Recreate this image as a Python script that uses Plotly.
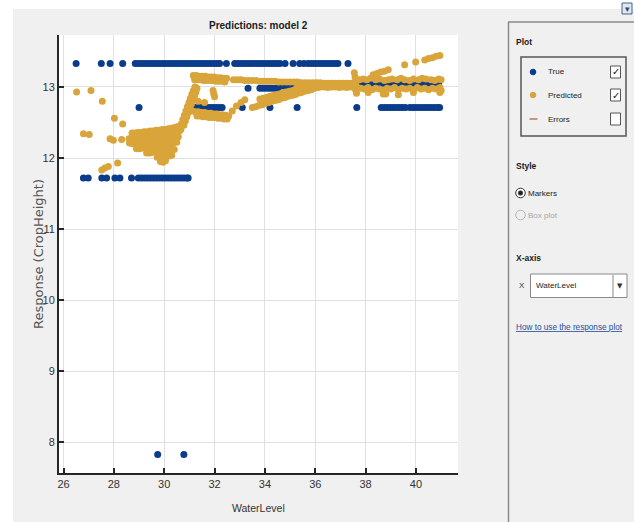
import plotly.graph_objects as go

# ---------------- data ----------------
x_ticks = [26, 28, 30, 32, 34, 36, 38, 40]
y_ticks = [8, 9, 10, 11, 12, 13]

# True response: one x-list per observed response level
true_levels = [13.33, 12.71, 12.98, 13.05, 11.72, 7.83]
true_r1_x = [26.5, 27.5, 27.85, 28.35, 28.85, 28.97, 29.09, 29.21, 29.33, 29.45, 29.57, 29.69,
             29.81, 29.93, 30.05, 30.17, 30.29, 30.41, 30.53, 30.65, 30.77, 30.89, 31.01, 31.13,
             31.25, 31.37, 31.49, 31.61, 31.73, 31.85, 31.97, 32.09, 32.2, 32.47, 32.8, 32.92,
             33.04, 33.16, 33.28, 33.4, 33.52, 33.64, 33.76, 33.88, 34.0, 34.12, 34.24, 34.36,
             34.48, 34.6, 34.8, 35.12, 35.38, 35.55, 35.71, 35.83, 35.95, 36.07, 36.19, 36.31,
             36.43, 36.55, 36.67, 36.79, 36.9, 37.3]
true_r2_x = [29.0, 31.1, 31.22, 31.34, 31.46, 31.58, 31.7, 31.82, 31.94, 32.06, 32.18, 32.3,
             33.1, 34.2, 35.28, 37.65, 38.62, 38.74, 38.86, 38.98, 39.1, 39.22, 39.34, 39.46,
             39.58, 39.76, 39.88, 40.0, 40.12, 40.24, 40.36, 40.48, 40.6, 40.72, 40.84, 40.94]
true_r3_x = [33.33, 33.8, 33.92, 34.04, 34.16, 34.28, 34.4, 34.52, 34.64, 34.76, 34.88, 35.0,
             35.12, 35.24, 35.36, 35.5]
true_r4_x = [37.78, 37.9, 38.02, 38.14, 38.26, 38.38, 38.5, 38.62, 38.74, 38.86, 38.98, 39.1,
             39.22, 39.34, 39.46, 39.58, 39.7, 39.82, 39.94, 40.06, 40.18, 40.3, 40.42, 40.54,
             40.66, 40.78, 40.9]
true_r5_x = [26.79, 26.98, 27.52, 27.71, 28.04, 28.24, 28.7, 28.97, 29.09, 29.21, 29.33, 29.45,
             29.57, 29.69, 29.81, 29.93, 30.05, 30.17, 30.29, 30.41, 30.53, 30.65, 30.77, 30.89,
             30.95]
true_r6_x = [29.74, 30.78]

# Predicted response: groups of (x, y) points
pred_left = [(26.52, 12.93), (27.09, 12.95), (27.54, 12.80), (28.02, 12.56), (28.35, 12.48),
             (26.79, 12.34), (27.02, 12.33), (27.85, 12.27), (27.98, 12.25), (28.31, 12.26),
             (27.52, 11.83), (27.64, 11.86), (27.78, 11.88), (28.15, 11.93)]
pred_blob = [(28.72, 12.35), (28.84, 12.35), (28.96, 12.36), (29.08, 12.36), (29.2, 12.37),
             (29.32, 12.37), (29.44, 12.38), (29.56, 12.38), (29.68, 12.39), (29.8, 12.39),
             (29.92, 12.40), (30.04, 12.40), (30.16, 12.41), (30.28, 12.42), (30.4, 12.43),
             (30.52, 12.44), (30.62, 12.45),
             (28.6, 12.27), (28.68, 12.27), (28.8, 12.28), (28.92, 12.28), (29.04, 12.29),
             (29.16, 12.29), (29.28, 12.30), (29.4, 12.30), (29.52, 12.31), (29.64, 12.31),
             (29.76, 12.32), (29.88, 12.32), (30.0, 12.33), (30.12, 12.34), (30.24, 12.35),
             (30.36, 12.36), (30.48, 12.37), (30.6, 12.38), (30.66, 12.40),
             (28.62, 12.21), (28.74, 12.20), (28.86, 12.20), (28.98, 12.21), (29.1, 12.21),
             (29.22, 12.22), (29.34, 12.22), (29.46, 12.23), (29.58, 12.23), (29.7, 12.24),
             (29.82, 12.24), (29.94, 12.25), (30.06, 12.25), (30.18, 12.26), (30.3, 12.27),
             (30.42, 12.28), (30.56, 12.30),
             (28.9, 12.13), (29.02, 12.13), (29.14, 12.14), (29.26, 12.14), (29.38, 12.15),
             (29.5, 12.15), (29.62, 12.16), (29.74, 12.16), (29.86, 12.17), (29.98, 12.17),
             (30.1, 12.18), (30.22, 12.19), (30.34, 12.20), (30.5, 12.22),
             (29.3, 12.07), (29.42, 12.07), (29.54, 12.08), (29.66, 12.08), (29.78, 12.09),
             (29.9, 12.09), (30.02, 12.10), (30.14, 12.10), (30.26, 12.11), (30.4, 12.12),
             (29.72, 12.01), (29.84, 12.01), (29.96, 12.02), (30.08, 12.02), (30.2, 12.03),
             (30.3, 12.04), (29.85, 11.95), (29.95, 11.94), (30.05, 11.96)]
pred_rise = [(30.68, 12.48), (30.74, 12.54), (30.8, 12.60), (30.86, 12.66), (30.92, 12.72),
             (30.98, 12.78), (31.04, 12.84), (31.1, 12.90), (31.16, 12.95), (31.22, 13.00),
             (30.78, 12.46), (30.84, 12.52), (30.9, 12.58), (30.96, 12.64), (31.02, 12.70),
             (31.08, 12.76), (31.14, 12.82), (31.2, 12.88), (31.26, 12.93), (31.3, 12.98)]
pred_low = [(31.0, 12.66), (31.12, 12.66), (31.24, 12.65), (31.36, 12.65), (31.48, 12.64),
            (31.6, 12.64), (31.72, 12.63), (31.84, 12.63), (31.96, 12.62), (32.08, 12.62),
            (32.2, 12.61), (32.32, 12.61), (32.44, 12.60), (32.56, 12.59),
            (31.3, 12.59), (31.42, 12.59), (31.54, 12.58), (31.66, 12.58), (31.78, 12.57),
            (31.9, 12.57), (32.02, 12.57), (32.14, 12.56), (32.26, 12.56), (32.38, 12.55),
            (32.5, 12.55),
            (31.2, 12.88), (31.35, 12.80), (31.6, 12.78), (31.94, 12.95), (31.97, 12.90),
            (32.0, 12.86), (32.7, 12.66), (32.87, 12.73), (33.05, 12.78), (33.2, 12.82)]
pred_up1 = [(31.15, 13.16), (31.27, 13.16), (31.39, 13.15), (31.51, 13.15), (31.63, 13.15),
            (31.75, 13.14), (31.87, 13.14), (31.99, 13.14), (32.11, 13.13), (32.23, 13.13),
            (32.35, 13.12), (32.48, 13.12),
            (31.21, 13.10), (31.33, 13.10), (31.45, 13.10), (31.57, 13.09), (31.69, 13.09),
            (31.81, 13.09), (31.93, 13.09), (32.05, 13.08), (32.17, 13.08), (32.29, 13.08),
            (32.41, 13.07)]
pred_up2 = [(32.75, 13.10), (32.9, 13.10), (33.05, 13.10), (33.2, 13.09), (33.35, 13.09),
            (33.5, 13.09), (33.65, 13.09), (33.8, 13.08), (33.95, 13.08), (34.1, 13.08),
            (34.25, 13.08), (34.4, 13.08), (34.55, 13.07), (34.7, 13.07), (34.85, 13.07),
            (35.0, 13.07), (35.15, 13.07), (35.3, 13.07), (35.45, 13.06), (35.6, 13.06),
            (35.75, 13.06), (35.9, 13.06), (36.05, 13.06), (36.2, 13.06), (36.35, 13.05),
            (36.5, 13.05), (36.65, 13.05), (36.8, 13.05), (36.95, 13.05), (37.1, 13.05),
            (37.25, 13.05), (37.4, 13.05),
            (35.3, 13.00), (35.45, 13.00), (35.6, 13.00), (35.75, 13.01), (35.9, 13.00),
            (36.05, 12.99), (36.2, 13.00), (36.35, 13.00), (36.5, 12.99), (36.65, 13.00),
            (36.8, 13.00), (36.95, 12.99), (37.1, 13.00), (37.25, 12.99), (37.4, 13.00)]
pred_l1 = [(33.5, 12.71), (33.63, 12.72), (33.76, 12.74), (33.89, 12.75), (34.02, 12.77),
           (34.15, 12.78), (34.28, 12.80), (34.41, 12.81), (34.54, 12.82), (34.67, 12.84),
           (34.8, 12.85), (34.93, 12.87), (35.06, 12.88), (35.19, 12.89), (35.32, 12.91),
           (35.45, 12.92), (35.58, 12.94), (35.71, 12.95), (35.84, 12.96), (35.97, 12.98),
           (36.1, 12.99)]
pred_l2 = [(33.8, 12.83), (33.93, 12.84), (34.06, 12.85), (34.19, 12.87), (34.32, 12.88),
           (34.45, 12.89), (34.58, 12.90), (34.71, 12.92), (34.84, 12.93), (34.97, 12.94),
           (35.1, 12.95), (35.23, 12.97), (35.36, 12.98), (35.49, 12.99), (35.62, 13.00),
           (35.75, 13.01), (35.88, 13.03), (36.01, 13.04), (36.1, 13.05)]
pred_right = [(37.55, 13.20), (37.58, 13.14), (37.6, 13.08), (37.62, 13.02), (37.6, 12.96),
              (37.64, 12.91), (37.5, 13.05),
              (37.75, 13.10), (37.9, 13.11), (38.05, 13.10), (38.2, 13.12), (38.4, 13.10),
              (38.55, 13.11), (38.75, 13.09), (38.9, 13.10), (39.05, 13.11), (39.25, 13.10),
              (39.4, 13.12), (39.55, 13.10), (39.75, 13.09), (39.9, 13.11), (40.1, 13.10),
              (40.25, 13.12), (40.4, 13.11), (40.6, 13.10), (40.75, 13.09), (40.9, 13.11),
              (41.0, 13.10),
              (37.8, 12.98), (37.95, 12.97), (38.1, 12.99), (38.25, 12.96), (38.4, 12.98),
              (38.55, 12.97), (38.7, 12.95), (38.85, 12.98), (39.0, 12.97), (39.15, 12.99),
              (39.3, 12.96), (39.45, 12.98), (39.6, 12.97), (39.75, 12.98), (39.9, 12.96),
              (40.05, 12.99), (40.2, 12.97), (40.35, 12.98), (40.5, 12.96), (40.65, 12.98),
              (40.8, 12.97), (40.95, 12.99),
              (38.1, 12.92), (38.7, 12.90), (38.8, 12.90), (39.3, 12.89), (39.9, 12.92),
              (40.95, 12.92), (41.0, 12.95)]
pred_upper = [(38.3, 13.17), (38.45, 13.19), (38.6, 13.21), (38.75, 13.22), (38.9, 13.24),
              (39.55, 13.31), (39.99, 13.35), (40.35, 13.38), (40.5, 13.40), (40.65, 13.41),
              (40.8, 13.43), (40.95, 13.44)]

# ---------------- assemble ----------------
true_rows = [true_r1_x, true_r2_x, true_r3_x, true_r4_x, true_r5_x, true_r6_x]
true_x, true_y = [], []
for xs, lvl in zip(true_rows, true_levels):
    true_x += xs
    true_y += [lvl] * len(xs)

pred_pts = pred_left + pred_blob + pred_rise + pred_low + pred_up1 + pred_up2 + pred_l1 + pred_l2 + pred_right + pred_upper
pred_x = [p[0] for p in pred_pts]
pred_y = [p[1] for p in pred_pts]

BLUE = "#0b3c8c"
GOLD = "#d9a53a"
NARROW = "Liberation Sans Narrow, Arial Narrow, Liberation Sans, sans-serif"

fig = go.Figure()
fig.add_trace(go.Scatter(x=true_x, y=true_y, mode="markers", name="True",
                         marker=dict(color=BLUE, size=7, line=dict(width=0)), showlegend=False))
fig.add_trace(go.Scatter(x=pred_x, y=pred_y, mode="markers", name="Predicted",
                         marker=dict(color=GOLD, size=7, line=dict(width=0)), showlegend=False))

W, H = 634, 522
L, R, T, B = 59, 458, 35, 473


def px(x):
    return (x - L) / (R - L)


def py(y):
    return (B - y) / (B - T)


shapes = []
annots = []


def rect(x0, y0, x1, y1, line="#555", fill="rgba(0,0,0,0)", lw=1):
    shapes.append(dict(type="rect", xref="paper", yref="paper", x0=px(x0), x1=px(x1),
                       y0=py(y1), y1=py(y0), line=dict(color=line, width=lw), fillcolor=fill,
                       layer="above"))


def line(x0, y0, x1, y1, color="#666", lw=1):
    shapes.append(dict(type="line", xref="paper", yref="paper", x0=px(x0), x1=px(x1),
                       y0=py(y0), y1=py(y1), line=dict(color=color, width=lw), layer="above"))


def circle(cx, cy, r, line_c="#333", fill="rgba(0,0,0,0)", lw=1):
    shapes.append(dict(type="circle", xref="paper", yref="paper", x0=px(cx - r), x1=px(cx + r),
                       y0=py(cy + r), y1=py(cy - r), line=dict(color=line_c, width=lw),
                       fillcolor=fill, layer="above"))


def text(x, y, s, size=8, color="#1a1a1a", anchor="left", family=NARROW, angle=0):
    annots.append(dict(xref="paper", yref="paper", x=px(x), y=py(y), text=s, showarrow=False,
                       xanchor=anchor, yanchor="middle", textangle=angle,
                       font=dict(family=family, size=size, color=color)))


# white margins of the screenshot
rect(0, 0, 634, 9, line="rgba(0,0,0,0)", fill="white", lw=0)
rect(0, 0, 13, 522, line="rgba(0,0,0,0)", fill="white", lw=0)

# chart texts
text(258.5, 25, "<b>Predictions: model 2</b>", size=10, anchor="center")
text(258.5, 508, "WaterLevel", size=10.5, color="#333", anchor="center")
text(38, 254, "Response (CropHeight)", size=13, color="#555", anchor="center",
     family="DejaVu Sans, sans-serif", angle=-90)

# right-hand panel
line(508.5, 22, 508.5, 522, color="#8a8a8a", lw=1.5)
line(508, 22, 634, 22, color="#8a8a8a", lw=1.5)
rect(622, 3, 632, 14, line="#44648c", fill="#dfe6ef", lw=1)
text(627, 9, "▾", size=9, color="#2b4a75", anchor="center", family="DejaVu Sans, sans-serif")

text(514, 42, "<b>Plot</b>", size=8.5)
rect(521, 57, 626, 136, line="#555", lw=1.5)
circle(533, 72, 2.8, line_c=BLUE, fill=BLUE)
circle(533, 95, 2.8, line_c=GOLD, fill=GOLD)
line(529.5, 119, 537.5, 119, color="#b97a5c", lw=1.5)
text(546, 72, "True")
text(546, 95, "Predicted")
text(546, 119, "Errors")
for cy in (72, 95, 119):
    rect(610.5, cy - 6, 620.5, cy + 6, line="#555", fill="white", lw=1)
for cy in (72, 95):
    text(615.5, cy, "✓", size=10, color="#222", anchor="center", family="DejaVu Sans, sans-serif")

text(514, 166, "<b>Style</b>", size=8.5)
circle(520.5, 193, 4.8, line_c="#333", fill="white", lw=1)
circle(520.5, 193, 2.3, line_c="#222", fill="#222", lw=0.5)
text(526, 193, "Markers")
circle(520.5, 215, 4.8, line_c="#b5b5b5", fill="rgba(0,0,0,0)", lw=1)
text(526, 215, "Box plot", color="#a5a5a5")

text(514, 258, "<b>X-axis</b>", size=8.5)
text(517, 285, "X", color="#333")
rect(530.5, 274, 627, 297.5, line="#8a8a8a", fill="white", lw=1)
line(613, 275, 613, 297, color="#8a8a8a", lw=1)
text(620, 285.5, "▼", size=7, color="#333", anchor="center", family="DejaVu Sans, sans-serif")
text(534, 285.5, "WaterLevel")

text(514, 327, "<u>How to use the response plot</u>", size=8.2, color="#1f4f9f")

fig.update_layout(
    width=W, height=H, autosize=False,
    margin=dict(l=L, r=W - R, t=T, b=H - B, pad=0),
    paper_bgcolor="#f0f0f0", plot_bgcolor="white",
    shapes=shapes, annotations=annots,
    xaxis=dict(range=[25.82, 41.67], tickvals=x_ticks, ticktext=[str(v) for v in x_ticks],
               showgrid=True, gridcolor="#e0e0e0", gridwidth=1, zeroline=False,
               showline=True, linecolor="#262626", linewidth=2, mirror=False,
               ticks="inside", ticklen=5, tickwidth=1.5, tickcolor="#262626",
               tickfont=dict(family=NARROW, size=11, color="#333")),
    yaxis=dict(range=[7.57, 13.73], tickvals=y_ticks, ticktext=[str(v) for v in y_ticks],
               showgrid=True, gridcolor="#e0e0e0", gridwidth=1, zeroline=False,
               showline=True, linecolor="#262626", linewidth=2, mirror=False,
               ticks="inside", ticklen=5, tickwidth=1.5, tickcolor="#262626",
               tickfont=dict(family=NARROW, size=11, color="#333")),
)

fig.write_html("out.html", config={"displayModeBar": False},
               post_script="document.body.style.margin='0';document.body.style.overflow='hidden';")
